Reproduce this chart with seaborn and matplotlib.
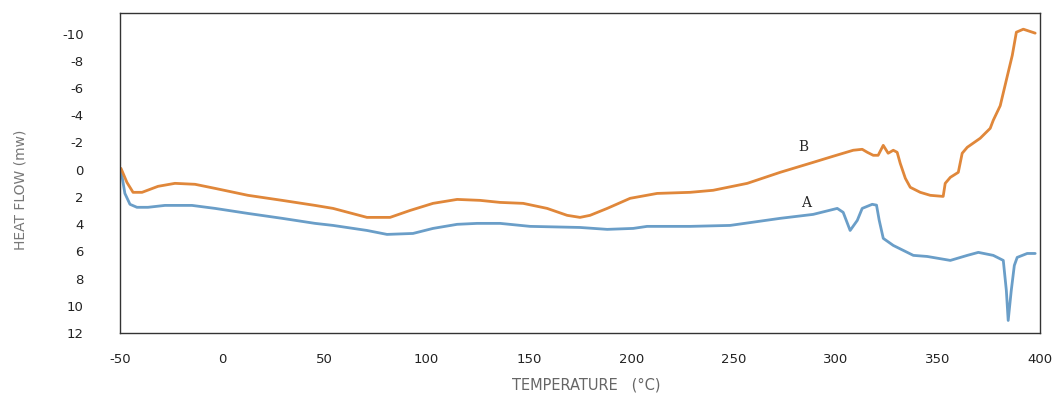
import matplotlib
matplotlib.use("Agg")
import matplotlib.pyplot as plt
import pandas as pd
import seaborn as sns

# curve A (blue)
temp_a = [-49.5, -47.6, -45.1, -41.7, -36.3, -28.0, -14.8, -3.5, 12.6, 29.3, 45.4,
          54.2, 70.8, 80.6, 93.3, 103.1, 114.9, 124.7, 135.9, 150.6, 175.0, 188.3,
          201.0, 207.8, 228.9, 248.4, 272.9, 289.0, 300.8, 303.7, 307.1, 310.6,
          313.0, 317.9, 320.0, 321.3, 323.3, 328.2, 338.0, 344.8, 356.1, 364.4,
          369.8, 377.1, 382.0, 383.5, 384.4, 385.9, 387.4, 388.8, 393.7, 397.6]
flow_a = [0.04, 1.74, 2.54, 2.76, 2.76, 2.62, 2.62, 2.84, 3.21, 3.57, 3.94,
          4.09, 4.46, 4.75, 4.68, 4.31, 4.01, 3.94, 3.94, 4.16, 4.24, 4.38,
          4.31, 4.16, 4.16, 4.09, 3.57, 3.28, 2.84, 3.13, 4.46, 3.72,
          2.84, 2.54, 2.6, 3.7, 5.04, 5.56, 6.29, 6.37, 6.66, 6.29,
          6.07, 6.29, 6.66, 8.87, 11.07, 8.87, 7.03, 6.44, 6.15, 6.15]

# curve B (orange)
temp_b = [-49.5, -46.6, -43.6, -39.2, -31.4, -23.1, -13.3, -3.5, 12.6, 29.3, 45.4,
          54.2, 70.8, 82.1, 91.9, 103.1, 114.9, 126.1, 135.9, 147.2, 158.9, 168.7,
          175.0, 179.9, 188.3, 199.5, 212.7, 228.9, 240.1, 256.8, 272.9, 289.0,
          298.8, 308.6, 313.0, 315.5, 318.4, 320.8, 323.3, 325.7, 328.2, 330.1,
          331.6, 334.1, 336.5, 341.4, 346.3, 352.6, 353.6, 356.1, 360.0, 361.9,
          364.4, 370.7, 375.6, 377.1, 380.5, 384.0, 386.4, 388.4, 391.8, 397.6]
flow_b = [-0.10, 0.93, 1.66, 1.66, 1.22, 1.0, 1.07, 1.37, 1.88, 2.25, 2.62,
          2.84, 3.50, 3.50, 2.99, 2.47, 2.18, 2.25, 2.40, 2.47, 2.84, 3.35,
          3.50, 3.35, 2.84, 2.10, 1.74, 1.66, 1.51, 1.0, 0.19, -0.54,
          -0.99, -1.43, -1.50, -1.28, -1.06, -1.06, -1.79, -1.21, -1.43, -1.28,
          -0.47, 0.63, 1.29, 1.66, 1.88, 1.96, 1.0, 0.56, 0.19, -1.21,
          -1.65, -2.31, -3.04, -3.63, -4.7, -6.9, -8.4, -10.1, -10.32, -10.03]

x_ticks = [-50, 0, 50, 100, 150, 200, 250, 300, 350, 400]
y_ticks = [-10, -8, -6, -4, -2, 0, 2, 4, 6, 8, 10, 12]

df = pd.concat([
    pd.DataFrame({"temp": temp_a, "flow": flow_a, "curve": "A"}),
    pd.DataFrame({"temp": temp_b, "flow": flow_b, "curve": "B"}),
])

sns.set_style("white")
plt.rcParams["axes.unicode_minus"] = False
fig = plt.figure(figsize=(10.57, 3.98), dpi=100)
ax = fig.add_axes([0.1135, 0.163, 0.8705, 0.804])

sns.lineplot(data=df, x="temp", y="flow", hue="curve", sort=False,
             palette={"A": "#6a9ec8", "B": "#e0873a"}, linewidth=2,
             legend=False, ax=ax)

ax.set_xlim(-50, 400)
ax.set_ylim(12, -11.5)
ax.set_xticks(x_ticks)
ax.set_yticks(y_ticks)
ax.tick_params(axis="both", length=0, labelsize=9.5, colors="#222222")
ax.tick_params(axis="y", pad=26)
ax.tick_params(axis="x", pad=14)
for s in ax.spines.values():
    s.set_color("#333333")
    s.set_linewidth(1.0)

ax.set_xlabel("TEMPERATURE   (°C)", fontsize=10.5, color="#666666")
ax.xaxis.set_label_coords(0.507, -0.14)
ax.set_ylabel("HEAT FLOW (mw)", fontsize=10, color="#777777")
ax.yaxis.set_label_coords(-0.1, 0.447)

ax.text(284, -1.65, "B", fontsize=10, family="DejaVu Serif", ha="center", va="center")
ax.text(285.6, 2.47, "A", fontsize=10, family="DejaVu Serif", ha="center", va="center")

fig.savefig("out.png", dpi=100)
